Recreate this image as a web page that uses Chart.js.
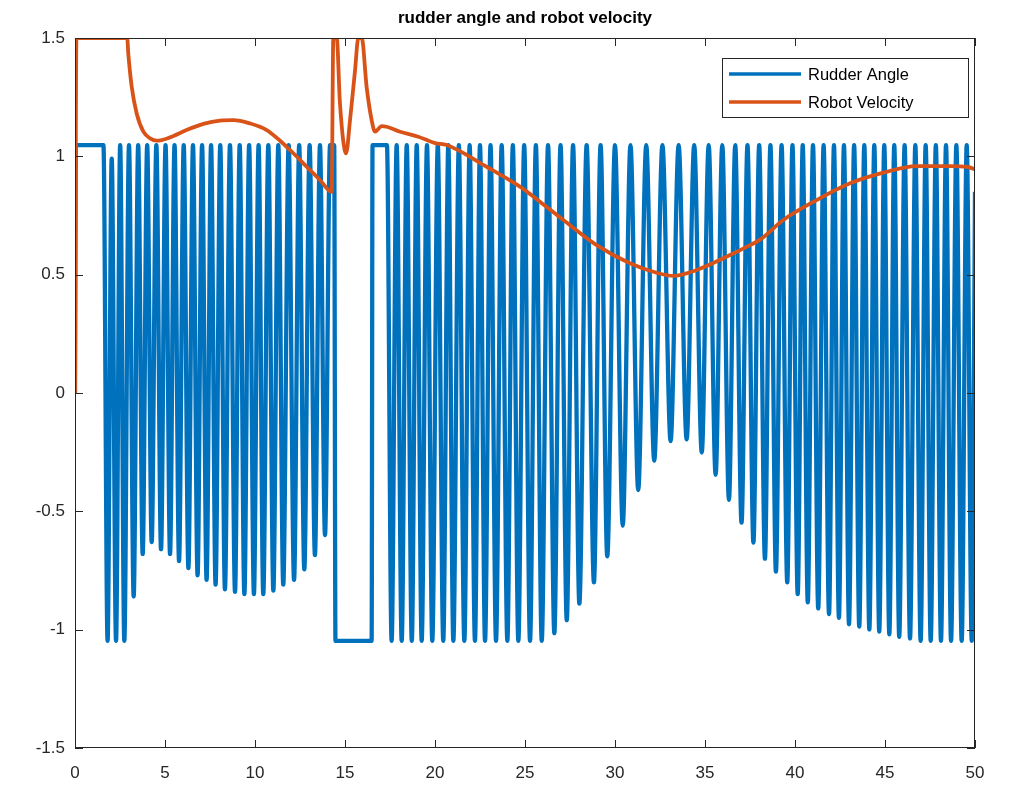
<!DOCTYPE html>
<html>
<head>
<meta charset="utf-8">
<script src="https://cdn.jsdelivr.net/npm/chart.js@4.4.1/dist/chart.umd.min.js"></script>
<style>
  html, body { margin: 0; padding: 0; background: #fff; }
  #wrap { width: 1013px; height: 786px; }
</style>
</head>
<body>
<div id="wrap"><canvas id="chart" width="1013" height="786"></canvas></div>
<script>
// values
const titleText = "rudder angle and robot velocity"
const seriesNames = ["Rudder Angle", "Robot Velocity"]
const xTicks = [0, 5, 10, 15, 20, 25, 30, 35, 40, 45, 50]
const yTicks = [-1.5, -1, -0.5, 0, 0.5, 1, 1.5]
const yTickLabels = ["-1.5", "-1", "-0.5", "0", "0.5", "1", "1.5"]

// robot velocity
const velT = [0, 0.08, 2.9, 2.96, 3.15, 3.43, 3.8, 4.17, 4.54, 5.28, 6.2, 7.13, 8.06, 8.8, 9.72, 10.65, 11.39, 12.13, 12.87, 13.61, 14.26, 14.35, 14.54, 14.72, 15.06, 15.28, 15.56, 15.74, 15.93, 16.2, 16.48, 16.67, 17.04, 17.31, 18.06, 19.07, 20.0, 20.65, 22.87, 24.72, 25.83, 27.13, 28.98, 30.83, 32.31, 33.24, 34.54, 36.39, 37.5, 38.06, 39.35, 41.2, 43.06, 44.91, 46.76, 48.61, 49.54, 50]
const velV = [0, 1.5, 1.5, 1.435, 1.294, 1.18, 1.104, 1.076, 1.066, 1.08, 1.111, 1.137, 1.151, 1.153, 1.139, 1.111, 1.066, 1.013, 0.956, 0.9, 0.85, 1.5, 1.5, 1.224, 1.013, 1.153, 1.365, 1.5, 1.5, 1.294, 1.153, 1.104, 1.128, 1.125, 1.104, 1.083, 1.056, 1.048, 0.956, 0.872, 0.808, 0.731, 0.625, 0.548, 0.508, 0.495, 0.52, 0.583, 0.625, 0.648, 0.731, 0.815, 0.886, 0.931, 0.959, 0.959, 0.956, 0.945]

// rudder angle: saturation level, start, troughs of the oscillation, block at 15 s
const rudderMax = 1.047
const rudderLeadT = [0, 0.05, 1.58, 1.81, 2.04]
const rudderLeadV = [0, 1.047, 1.047, -1.047, 0.99]
const troughsAT = [2.28, 2.74, 3.26, 3.76, 4.26, 4.78, 5.28, 5.78, 6.30, 6.81, 7.31, 7.81, 8.33, 8.89, 9.41, 9.94, 10.46, 11.02, 11.57, 12.17, 12.74, 13.33, 13.89]
const troughsAV = [-1.047, -1.047, -0.86, -0.68, -0.63, -0.66, -0.68, -0.71, -0.74, -0.77, -0.79, -0.81, -0.83, -0.84, -0.85, -0.85, -0.85, -0.835, -0.81, -0.79, -0.745, -0.685, -0.60]
const rudderBlockT = [14.17, 14.4, 14.47, 16.48, 16.53, 17.33]
const rudderBlockV = [1.047, 1.047, -1.047, -1.047, 1.047, 1.047]
const troughsBT = [17.59, 18.15, 18.71, 19.26, 19.85, 20.46, 21.02, 21.63, 22.22, 22.78, 23.39, 24.02, 24.63, 25.28, 25.93, 26.63, 27.32, 28.02, 28.83, 29.57, 30.43, 31.29, 32.18, 33.09, 33.98, 34.82, 35.59, 36.33, 37.03, 37.69, 38.33, 38.94, 39.57, 40.15, 40.71, 41.29, 41.89, 42.44, 43.0, 43.57, 44.13, 44.68, 45.24, 45.79, 46.39, 46.98, 47.54, 48.11, 48.67, 49.26, 49.82]
const troughsBV = [-1.047, -1.047, -1.047, -1.047, -1.047, -1.047, -1.047, -1.047, -1.047, -1.047, -1.047, -1.047, -1.047, -1.047, -1.047, -1.015, -0.96, -0.89, -0.80, -0.69, -0.56, -0.41, -0.286, -0.203, -0.196, -0.252, -0.346, -0.452, -0.548, -0.632, -0.70, -0.755, -0.80, -0.85, -0.885, -0.91, -0.934, -0.95, -0.977, -0.987, -0.999, -1.008, -1.02, -1.03, -1.037, -1.047, -1.047, -1.047, -1.047, -1.047, -1.047]
const rudderTailT = [50]
const rudderTailV = [0.85]

const BLUE = "#0072BD"
const ORANGE = "#D95319"
const AXIS = "#262626"
const FONT = "'Liberation Sans', Arial, sans-serif"

function pairs(ts, vs) {
  return ts.map((t, i) => ({ x: t, y: vs[i] }))
}

// troughs joined by peaks at the saturation level; the curve is smoothed by the chart
function oscillation(ts, vs) {
  const out = []
  ts.forEach((t, i) => {
    if (i > 0) out.push({ x: (ts[i - 1] + t) / 2, y: rudderMax })
    out.push({ x: t, y: vs[i] })
  })
  return out
}

const rudderData = [
  ...pairs(rudderLeadT, rudderLeadV),
  ...oscillation(troughsAT, troughsAV),
  ...pairs(rudderBlockT, rudderBlockV),
  ...oscillation(troughsBT, troughsBV),
  ...pairs(rudderTailT, rudderTailV)
]
const velocityData = pairs(velT, velV)

// box, inward ticks, title and legend the way MATLAB draws them
const matlabAxes = {
  id: "matlabAxes",
  afterDatasetsDraw(chart) {
    const { ctx, chartArea: a, scales } = chart
    ctx.save()
    ctx.strokeStyle = AXIS
    ctx.lineWidth = 1
    ctx.strokeRect(a.left + 0.5, a.top + 0.5, a.right - a.left - 1, a.bottom - a.top - 1)
    const len = 8
    ctx.beginPath()
    xTicks.forEach(v => {
      const x = Math.round(scales.x.getPixelForValue(v)) + 0.5
      ctx.moveTo(x, a.bottom); ctx.lineTo(x, a.bottom - len)
      ctx.moveTo(x, a.top); ctx.lineTo(x, a.top + len)
    })
    yTicks.forEach(v => {
      const y = Math.round(scales.y.getPixelForValue(v)) + 0.5
      ctx.moveTo(a.left, y); ctx.lineTo(a.left + len, y)
      ctx.moveTo(a.right, y); ctx.lineTo(a.right - len, y)
    })
    ctx.stroke()

    ctx.fillStyle = "#000"
    ctx.font = "bold 17px " + FONT
    ctx.textAlign = "center"
    ctx.textBaseline = "middle"
    ctx.fillText(titleText, (a.left + a.right) / 2, 18)

    // legend
    const lx = 722, ly = 58, lw = 246, lh = 59
    ctx.fillStyle = "#fff"
    ctx.fillRect(lx, ly, lw, lh)
    ctx.strokeStyle = AXIS
    ctx.strokeRect(lx + 0.5, ly + 0.5, lw, lh)
    const rows = [[seriesNames[0], BLUE, 74], [seriesNames[1], ORANGE, 102]]
    ctx.font = "16.5px " + FONT
    ctx.textAlign = "left"
    rows.forEach(([name, color, y]) => {
      ctx.strokeStyle = color
      ctx.lineWidth = 3.5
      ctx.beginPath()
      ctx.moveTo(729, y); ctx.lineTo(801, y)
      ctx.stroke()
      ctx.fillStyle = "#000"
      ctx.fillText(name, 808, y + 1)
    })
    ctx.restore()
  }
}

new Chart(document.getElementById("chart"), {
  type: "line",
  data: {
    datasets: [
      {
        label: seriesNames[1],
        data: velocityData,
        borderColor: ORANGE,
        borderWidth: 3.8,
        pointRadius: 0,
        cubicInterpolationMode: "monotone",
        order: 0
      },
      {
        label: seriesNames[0],
        data: rudderData,
        borderColor: BLUE,
        borderWidth: 4.3,
        pointRadius: 0,
        borderJoinStyle: "round",
        cubicInterpolationMode: "monotone",
        order: 1
      }
    ]
  },
  options: {
    responsive: false,
    animation: false,
    layout: { padding: { top: 38, right: 38, left: 0, bottom: 0 } },
    plugins: {
      legend: { display: false },
      title: { display: false },
      tooltip: { enabled: false }
    },
    scales: {
      x: {
        type: "linear",
        min: 0,
        max: 50,
        afterBuildTicks: s => { s.ticks = xTicks.map(v => ({ value: v })) },
        ticks: { color: AXIS, font: { family: FONT, size: 17 }, padding: 15, maxRotation: 0 },
        grid: { display: false, drawTicks: false },
        border: { display: false },
        afterFit: s => { s.height = 38 }
      },
      y: {
        type: "linear",
        min: -1.5,
        max: 1.5,
        afterBuildTicks: s => { s.ticks = yTicks.map(v => ({ value: v })) },
        ticks: {
          color: AXIS,
          font: { family: FONT, size: 17 },
          padding: 10,
          callback: v => yTickLabels[yTicks.indexOf(v)]
        },
        grid: { display: false, drawTicks: false },
        border: { display: false },
        afterFit: s => { s.width = 75 }
      }
    }
  },
  plugins: [matlabAxes]
})
</script>
</body>
</html>
